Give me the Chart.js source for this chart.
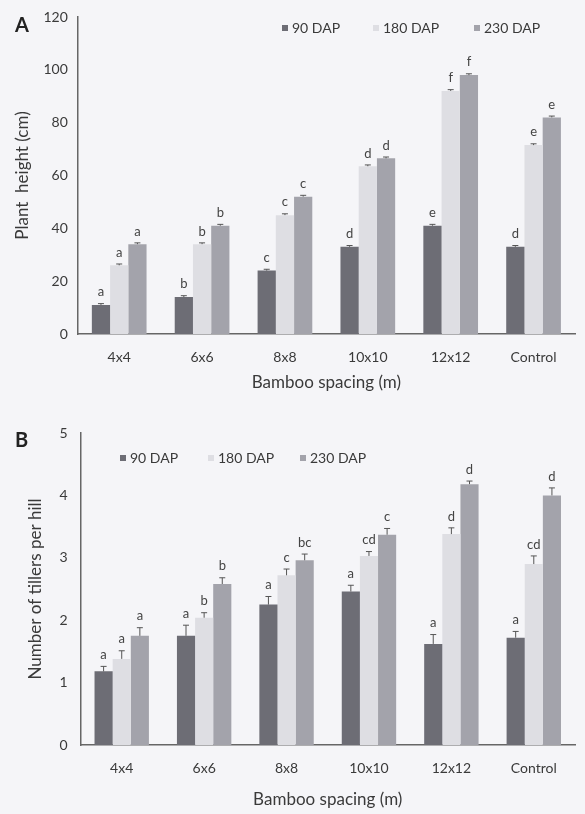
<!DOCTYPE html>
<html>
<head>
<meta charset="utf-8">
<script src="https://cdn.jsdelivr.net/npm/chart.js@4/dist/chart.umd.min.js"></script>
<style>
  html,body{margin:0;padding:0;background:#f5f5f8;}
  #wrap{position:relative;width:585px;height:814px;background:#f5f5f8;overflow:hidden;}
  .box{position:absolute;left:0;width:585px;}
  #boxA{top:0;height:400px;}
  #boxB{top:400px;height:414px;}
  .panel{position:absolute;font-family:Lato,"Open Sans",sans-serif;font-weight:bold;font-size:20px;color:#222;}
</style>
</head>
<body>
<div id="wrap">
  <div class="box" id="boxA"><canvas id="chartA"></canvas></div>
  <div class="box" id="boxB"><canvas id="chartB"></canvas></div>
  <div class="panel" style="left:15px;top:12px;">A</div>
  <div class="panel" style="left:15px;top:427px;">B</div>
</div>
<script>
const categories = ["4x4", "6x6", "8x8", "10x10", "12x12", "Control"];
const seriesNames = ["90 DAP", "180 DAP", "230 DAP"];
const seriesColors = ["#6d6d75", "#dedee3", "#a3a3ab"];

// Panel A: plant height (cm)
const heightDAP90  = [11, 14, 24, 33, 41, 33];
const heightDAP180 = [26, 34, 45, 63.5, 92, 71.5];
const heightDAP230 = [34, 41, 52, 66.5, 98, 82];
const heightErr90  = [0.5, 0.5, 0.5, 0.5, 0.5, 0.5];
const heightErr180 = [0.5, 0.5, 0.5, 0.5, 0.5, 0.5];
const heightErr230 = [0.5, 0.5, 0.5, 0.5, 0.5, 0.5];
const heightLet90  = ["a", "b", "c", "d", "e", "d"];
const heightLet180 = ["a", "b", "c", "d", "f", "e"];
const heightLet230 = ["a", "b", "c", "d", "f", "e"];
const heightTicks  = [0, 20, 40, 60, 80, 100, 120];

// Panel B: number of tillers per hill
const tillerDAP90  = [1.18, 1.75, 2.25, 2.46, 1.62, 1.72];
const tillerDAP180 = [1.38, 2.04, 2.72, 3.03, 3.38, 2.9];
const tillerDAP230 = [1.75, 2.58, 2.96, 3.37, 4.18, 4.0];
const tillerErr90  = [0.08, 0.17, 0.13, 0.1, 0.15, 0.1];
const tillerErr180 = [0.13, 0.08, 0.1, 0.07, 0.1, 0.13];
const tillerErr230 = [0.13, 0.1, 0.1, 0.1, 0.05, 0.12];
const tillerLet90  = ["a", "a", "a", "a", "a", "a"];
const tillerLet180 = ["a", "b", "c", "cd", "d", "cd"];
const tillerLet230 = ["a", "b", "bc", "c", "d", "d"];
const tillerTicks  = [0, 1, 2, 3, 4, 5];

const FONT = 'Lato, "Open Sans", sans-serif';
const TEXT = '#3a3a3a';
const AXIS = '#666';

const errPlugin = {
  id: 'errLetters',
  afterDatasetsDraw(chart, args, opts) {
    const ctx = chart.ctx;
    const ys = chart.scales.y;
    chart.data.datasets.forEach((ds, i) => {
      const meta = chart.getDatasetMeta(i);
      meta.data.forEach((el, j) => {
        const v = ds.data[j];
        const e = ds.errors[j];
        const yTop = ys.getPixelForValue(v + e);
        ctx.save();
        ctx.strokeStyle = '#555';
        ctx.lineWidth = 1;
        ctx.beginPath();
        ctx.moveTo(el.x, el.y);
        ctx.lineTo(el.x, yTop);
        ctx.moveTo(el.x - 3, yTop);
        ctx.lineTo(el.x + 3, yTop);
        ctx.stroke();
        ctx.fillStyle = '#444';
        ctx.font = '13px ' + FONT;
        ctx.textAlign = 'center';
        ctx.textBaseline = 'bottom';
        ctx.fillText(ds.letters[j], el.x, yTop - 5);
        ctx.restore();
      });
    });
  }
};

const legendPlugin = {
  id: 'inLegend',
  afterDraw(chart, args, opts) {
    const ctx = chart.ctx;
    ctx.save();
    ctx.font = '14px ' + FONT;
    ctx.textBaseline = 'middle';
    chart.data.datasets.forEach((ds, i) => {
      const x = opts.xs[i];
      ctx.fillStyle = ds.backgroundColor;
      ctx.fillRect(x, opts.y - 3, 6, 6);
      ctx.fillStyle = TEXT;
      ctx.fillText(ds.label, x + 10, opts.y);
    });
    ctx.restore();
  }
};

function makeChart(id, d1, d2, d3, e1, e2, e3, l1, l2, l3, ticks, yTitle, pad, legendPos, tickPad, titlePad, xAxisHeight) {
  const dataArr = [d1, d2, d3], errArr = [e1, e2, e3], letArr = [l1, l2, l3];
  return new Chart(document.getElementById(id), {
    type: 'bar',
    data: {
      labels: categories,
      datasets: seriesNames.map((n, i) => ({
        label: n,
        data: dataArr[i],
        errors: errArr[i],
        letters: letArr[i],
        backgroundColor: seriesColors[i],
        borderWidth: 0,
        barPercentage: 1.0,
        categoryPercentage: 0.66
      }))
    },
    options: {
      responsive: true,
      maintainAspectRatio: false,
      animation: false,
      layout: { padding: pad },
      plugins: {
        legend: { display: false },
        tooltip: { enabled: false },
        inLegend: legendPos
      },
      scales: {
        x: {
          afterFit(scale) { scale.height = xAxisHeight; },
          grid: { display: false, drawTicks: false },
          border: { color: AXIS, width: 1.5 },
          ticks: { color: TEXT, font: { family: FONT, size: 14 }, padding: 15 },
          title: { display: true, text: 'Bamboo spacing (m)', color: TEXT, font: { family: FONT, size: 17 }, padding: { top: 4, bottom: 0 } }
        },
        y: {
          min: ticks[0],
          max: ticks[ticks.length - 1],
          afterBuildTicks(scale) { scale.ticks = ticks.map(v => ({ value: v })); },
          grid: { display: false, drawOnChartArea: false, drawTicks: true, tickLength: 5, color: '#999' },
          border: { color: AXIS, width: 1.5 },
          ticks: { color: TEXT, font: { family: FONT, size: 14 }, padding: tickPad },
          title: { display: true, text: yTitle, color: TEXT, font: { family: FONT, size: 17 }, padding: { top: 4, bottom: titlePad } }
        }
      }
    },
    plugins: [errPlugin, legendPlugin]
  });
}

makeChart('chartA', heightDAP90, heightDAP180, heightDAP230,
  heightErr90, heightErr180, heightErr230,
  heightLet90, heightLet180, heightLet230,
  heightTicks, 'Plant  height (cm)',
  { left: 8, right: 10, top: 17, bottom: 7 },
  { xs: [282, 373, 474], y: 28 }, 5, 6, 59);

makeChart('chartB', tillerDAP90, tillerDAP180, tillerDAP230,
  tillerErr90, tillerErr180, tillerErr230,
  tillerLet90, tillerLet180, tillerLet230,
  tillerTicks, 'Number of tillers per hill',
  { left: 21, right: 10, top: 33, bottom: 4 },
  { xs: [120, 208, 300], y: 58 }, 8, 6, 65);
</script>
</body>
</html>
